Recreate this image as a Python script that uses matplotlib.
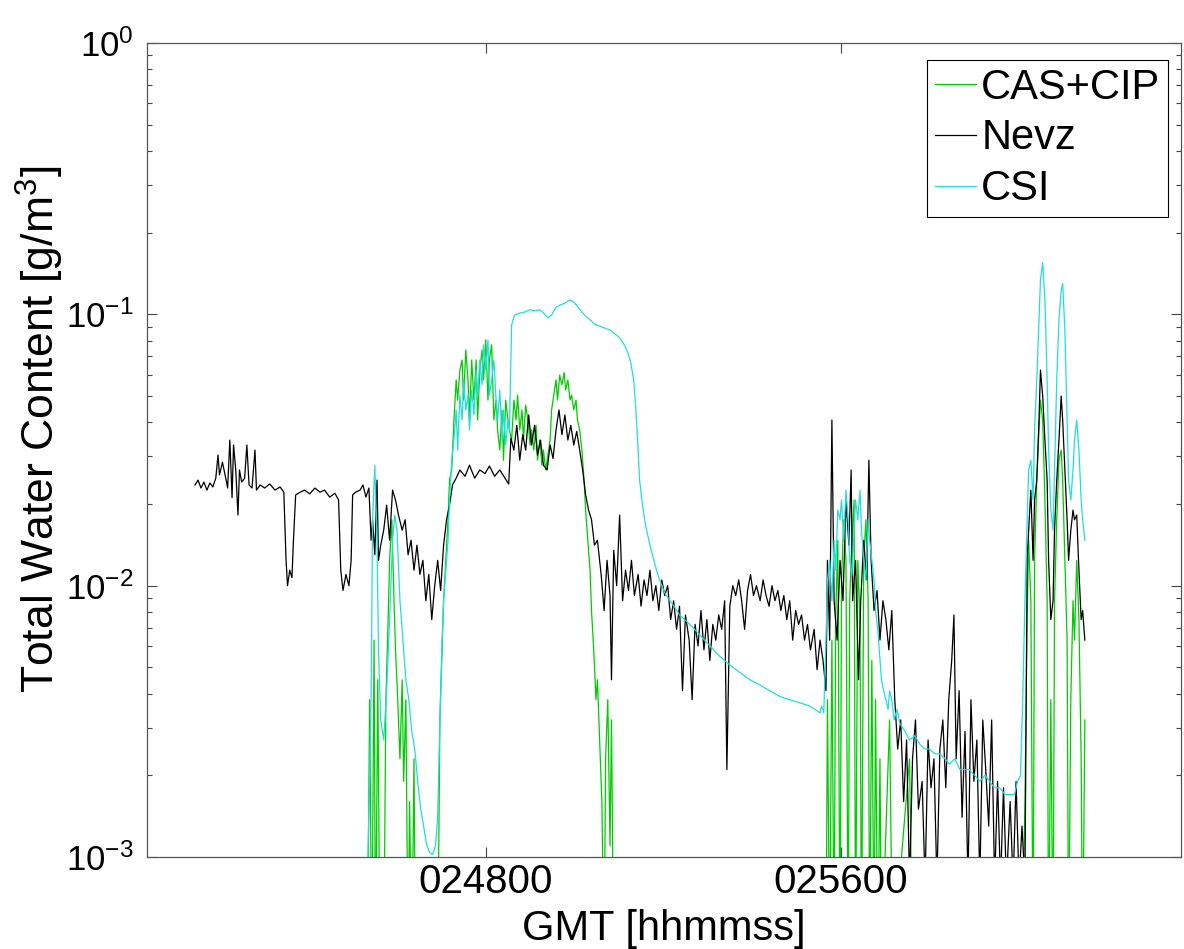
import matplotlib
matplotlib.use("Agg")
import matplotlib.pyplot as plt
from matplotlib import font_manager
from matplotlib.ticker import NullFormatter

plt.rcParams['font.family'] = ['Liberation Sans', 'DejaVu Sans']
plt.rcParams['mathtext.fontset'] = 'custom'
plt.rcParams['mathtext.rm'] = 'Liberation Sans'
plt.rcParams['mathtext.it'] = 'Liberation Sans'
plt.rcParams['mathtext.default'] = 'regular'

# narrow face for the log tick labels, if it is there
installed = {f.name for f in font_manager.fontManager.ttflist}
if 'Liberation Sans Narrow' in installed:
    ylab_font, ylab_size = 'Liberation Sans Narrow', 28
else:
    ylab_font, ylab_size = 'Liberation Sans', 25

# time in seconds after 02:40:00 GMT, total water content in g/m^3
nevz_t = [87, 91, 95, 99, 103, 107, 111, 115, 118, 120,
          124, 129, 131, 134, 137, 139, 142, 145, 147, 150,
          154, 157, 160, 164, 168, 170, 175, 181, 188, 195,
          202, 207, 210, 212, 215, 218, 220, 223, 229, 235,
          242, 249, 256, 262, 269, 276, 281, 284, 287, 291,
          295, 298, 300, 304, 310, 314, 318, 322, 325, 327,
          330, 333, 335, 338, 342, 346, 350, 354, 358, 362,
          367, 371, 375, 379, 383, 387, 391, 395, 399, 403,
          407, 411, 415, 419, 423, 427, 431, 435, 440, 445,
          452, 458, 465, 472, 479, 485, 492, 499, 506, 511,
          514, 518, 522, 526, 530, 534, 538, 542, 546, 550,
          554, 558, 563, 567, 571, 575, 579, 583, 587, 591,
          595, 599, 603, 607, 611, 615, 619, 623, 627, 631,
          636, 640, 644, 648, 650, 653, 657, 661, 665, 669,
          673, 677, 681, 686, 690, 694, 698, 702, 706, 710,
          714, 718, 722, 726, 730, 734, 738, 742, 746, 750,
          755, 759, 763, 767, 771, 775, 779, 783, 787, 791,
          795, 799, 803, 806, 810, 814, 818, 822, 826, 830,
          834, 838, 842, 846, 851, 855, 859, 863, 867, 871,
          875, 879, 883, 887, 891, 895, 899, 903, 907, 911,
          915, 919, 924, 928, 932, 936, 940, 942, 945, 948,
          951, 955, 959, 963, 967, 971, 974, 976, 980, 984,
          987, 991, 995, 998, 1001, 1005, 1009, 1013, 1017, 1021,
          1025, 1029, 1033, 1037, 1041, 1045, 1049, 1053, 1057, 1061,
          1065, 1070, 1074, 1078, 1082, 1086, 1090, 1094, 1098, 1102,
          1106, 1110, 1113, 1116, 1120, 1124, 1128, 1132, 1136, 1140,
          1144, 1148, 1152, 1156, 1160, 1164, 1168, 1172, 1176, 1180,
          1184, 1189, 1193, 1197, 1201, 1205, 1209, 1212, 1214, 1217,
          1220, 1222, 1225, 1228, 1230, 1233, 1236, 1239, 1241, 1244,
          1247, 1249, 1252, 1255, 1258, 1260, 1263, 1266, 1268, 1271,
          1274, 1276, 1279, 1282, 1285, 1287, 1290]
nevz_twc = [.0235, .0245, .0229, .0241, .0225, .0239, .0231, .0249, .0303, .0256,
            .0285, .0245, .0229, .0344, .0211, .033, .0267, .0182, .0267, .0241,
            .0249, .033, .0235, .0229, .0316, .0225, .0235, .0229, .0237, .0225,
            .0231, .0221, .0124, .0100, .0114, .0107, .0147, .0216, .0221, .0225,
            .0218, .0229, .0221, .0225, .0212, .0219, .0207, .0114, .0096, .0110,
            .0100, .0124, .0216, .0221, .0225, .0235, .0212, .0229, .0147, .0175,
            .0130, .0245, .0124, .0141, .0160, .0198, .0147, .0225, .0207, .0182,
            .0160, .0175, .0130, .0147, .0114, .0141, .0110, .0124, .0088, .0110,
            .0075, .0100, .0124, .0096, .0141, .0175, .0198, .0235, .0249, .0267,
            .0253, .0278, .0249, .0267, .0259, .0276, .0253, .0267, .0249, .0237,
            .0350, .0316, .0390, .0290, .0360, .0316, .0426, .0330, .0390, .0303,
            .0344, .0278, .0267, .0330, .0294, .0375, .0444, .0360, .0426, .0344,
            .0390, .0330, .0370, .0316, .0267, .0216, .0190, .0175, .0141, .0147,
            .0110, .0081, .0124, .0092, .0045, .0135, .0100, .0182, .0088, .0114,
            .0096, .0124, .0092, .0110, .0084, .0105, .0092, .0114, .0088, .0100,
            .0081, .0105, .0092, .0100, .0075, .0088, .0069, .0084, .0041, .0078,
            .0063, .0038, .0072, .0060, .0081, .0058, .0075, .0053, .0072, .0063,
            .0078, .0069, .0088, .0021, .0084, .0100, .0092, .0105, .0088, .0069,
            .0096, .0110, .0092, .0100, .0088, .0105, .0092, .0084, .0100, .0088,
            .0096, .0081, .0092, .0075, .0088, .0063, .0081, .0072, .0078, .0063,
            .0072, .0058, .0069, .0049, .0063, .0053, .0041, .0124, .0063, .0408,
            .0088, .0063, .0124, .0088, .0207, .0141, .0267, .0088, .0124, .0045,
            .0088, .0147, .0105, .0290, .0124, .0081, .0096, .0063, .0088, .0075,
            .0058, .0081, .0038, .0025, .0032, .0016, .0027, .0008, .0023, .0032,
            .0015, .0019, .0008, .0027, .0018, .0023, .0008, .0025, .0032, .0018,
            .0038, .0053, .0078, .0023, .0041, .0014, .0029, .0008, .0038, .0019,
            .0027, .0008, .0032, .0021, .0013, .0032, .0008, .0019, .0008, .0018,
            .0008, .0016, .0008, .0019, .0008, .0013, .0008, .0124, .0160, .0225,
            .0124, .0207, .0245, .0408, .0623, .0500, .0344, .0245, .0124, .0075,
            .0088, .0160, .0245, .0344, .0500, .0408, .0267, .0175, .0124, .0160,
            .0190, .0175, .0182, .0114, .0075, .0081, .0063]

csi_t = [320, 325, 327, 330, 333, 335, 338, 342, 346, 350,
         354, 357, 360, 364, 368, 372, 376, 380, 384, 388,
         392, 396, 400, 404, 408, 412, 415, 418, 421, 423,
         426, 429, 431, 434, 437, 440, 442, 445, 448, 450,
         453, 456, 458, 461, 464, 467, 469, 472, 475, 477,
         480, 483, 485, 488, 491, 494, 496, 499, 502, 504,
         507, 510, 512, 515, 519, 526, 533, 540, 546, 553,
         560, 564, 569, 575, 580, 587, 594, 599, 604, 610,
         615, 621, 627, 634, 641, 648, 654, 661, 668, 672,
         676, 680, 683, 686, 688, 692, 696, 702, 709, 715,
         722, 729, 736, 742, 756, 769, 783, 796, 810, 823,
         837, 851, 864, 878, 891, 905, 918, 925, 932, 934,
         937, 940, 942, 945, 948, 951, 953, 956, 959, 961,
         964, 967, 970, 972, 975, 978, 980, 983, 986, 988,
         991, 994, 997, 999, 1002, 1005, 1007, 1010, 1013, 1015,
         1018, 1021, 1024, 1026, 1029, 1032, 1036, 1040, 1047, 1053,
         1060, 1067, 1074, 1080, 1087, 1094, 1101, 1107, 1114, 1121,
         1128, 1134, 1141, 1148, 1155, 1161, 1168, 1175, 1182, 1189,
         1195, 1199, 1203, 1206, 1209, 1212, 1214, 1217, 1220, 1222,
         1225, 1228, 1230, 1233, 1236, 1239, 1241, 1244, 1247, 1249,
         1252, 1255, 1258, 1260, 1263, 1266, 1268, 1271, 1274, 1276,
         1279, 1282, 1285, 1287, 1290]
csi_twc = [.0008, .0038, .0175, .0278, .0147, .0058, .0032, .0027, .0041, .0075,
           .0147, .0182, .0160, .0088, .0063, .0045, .0038, .0029, .0025, .0019,
           .0015, .0013, .00111, .00104, .00102, .0011, .0014, .0032, .0063, .0088,
           .0114, .0147, .0207, .029, .0344, .0444, .0316, .0504, .0408, .0573,
           .0444, .0504, .0375, .0526, .0426, .0623, .0504, .0679, .055, .0772,
           .0623, .0805, .0504, .0573, .0679, .0483, .0408, .0526, .0344, .0444,
           .033, .0408, .0375, .0915, .0995, .101, .102, .104, .103, .104,
           .100, .097, .0995, .106, .108, .110, .113, .111, .107, .102,
           .0985, .0955, .092, .0905, .089, .0875, .085, .082, .0766, .0723,
           .0665, .0573, .0444, .0316, .0245, .0198, .0167, .0141, .0119, .0105,
           .0094, .0088, .0083, .0078, .0072, .0066, .0060, .0055, .0051, .0048,
           .0045, .0043, .0041, .0039, .0038, .0037, .0036, .0035, .0034, .0036,
           .0034, .0063, .0105, .0124, .0088, .0147, .0114, .019, .0175, .0207,
           .0147, .0225, .0175, .0124, .0109, .016, .0207, .0175, .0225, .016,
           .0124, .0105, .0175, .0147, .0124, .0105, .0081, .0069, .0053, .0045,
           .0041, .0038, .0035, .0041, .0038, .0032, .0035, .0031, .0029, .0027,
           .0028, .0026, .0025, .0025, .0024, .0024, .0023, .0022, .0023, .0021,
           .0021, .0021, .0020, .0019, .0020, .0019, .0018, .0018, .0017, .0017,
           .0017, .0019, .0020, .0038, .0088, .0175, .0267, .029, .0207, .0375,
           .0573, .0955, .134, .155, .113, .0573, .0316, .019, .016, .0267,
           .0573, .0955, .123, .13, .0875, .0408, .0245, .0207, .0267, .0344,
           .0408, .0316, .0207, .0175, .0147]

cas_t = [320, 323, 326, 329, 331, 334, 337, 342, 345, 348,
         350, 353, 356, 358, 361, 364, 367, 369, 372, 375,
         377, 380, 383, 385, 415, 418, 421, 423, 426, 429,
         431, 434, 437, 440, 442, 445, 448, 450, 453, 456,
         458, 461, 464, 467, 469, 472, 475, 477, 480, 483,
         485, 488, 491, 494, 496, 499, 502, 504, 507, 510,
         512, 515, 518, 521, 523, 526, 529, 531, 534, 537,
         540, 542, 545, 548, 550, 553, 556, 558, 561, 564,
         567, 569, 572, 575, 577, 580, 583, 586, 588, 591,
         594, 596, 599, 602, 604, 607, 610, 613, 615, 618,
         621, 623, 626, 629, 631, 634, 637, 640, 642, 645,
         648, 650, 653, 661, 940, 942, 945, 948, 951, 953,
         956, 959, 961, 964, 967, 970, 972, 975, 978, 980,
         983, 986, 988, 991, 994, 997, 999, 1002, 1005, 1007,
         1010, 1013, 1015, 1026, 1030, 1053, 1057, 1205, 1209, 1212,
         1214, 1217, 1220, 1222, 1225, 1228, 1230, 1233, 1236, 1239,
         1241, 1244, 1247, 1249, 1252, 1255, 1258, 1260, 1263, 1266,
         1268, 1271, 1274, 1276, 1279, 1282, 1285, 1287, 1290]
cas_twc = [.0004, .0038, .0004, .0063, .0004, .0045, .0004, .0004, .0038, .0075,
           .0124, .0175, .0088, .0058, .0038, .0023, .0045, .0019, .0038, .0004,
           .0016, .0004, .0023, .0004, .0004, .0032, .0058, .0088, .0124, .0175,
           .0245, .0267, .0408, .0573, .0483, .0623, .0679, .0483, .0739, .0573,
           .0408, .0679, .0483, .0679, .0408, .0623, .0739, .0573, .0805, .0483,
           .0679, .0772, .0408, .0483, .0375, .0316, .0444, .029, .0483, .0408,
           .0375, .0344, .0483, .0408, .0504, .0375, .0444, .0344, .0463, .0408,
           .033, .0375, .0316, .039, .029, .0344, .0278, .0316, .0267, .0303,
           .0344, .0444, .0504, .0573, .0483, .0597, .055, .061, .0526, .0573,
           .0483, .0504, .0444, .0483, .0408, .0375, .0316, .0245, .019, .0147,
           .0114, .0081, .0058, .0038, .0045, .0027, .0016, .0004, .0023, .0038,
           .0011, .0032, .0004, .0004, .0004, .0038, .0004, .0063, .0004, .0075,
           .0147, .0004, .0105, .0175, .0124, .0004, .0088, .0147, .0207, .0004,
           .0124, .0075, .0004, .0124, .0175, .0088, .0004, .0053, .0004, .0038,
           .0004, .0023, .0004, .0032, .0004, .0023, .0004, .0004, .0016, .0075,
           .0147, .0088, .0004, .0124, .0245, .0375, .0483, .0408, .0207, .0088,
           .0004, .0038, .0004, .0088, .0175, .029, .0316, .0245, .0124, .0063,
           .0004, .0038, .0088, .0063, .0124, .0075, .0023, .0004, .0032]

tick_pos = [480, 960]
tick_labels = ['024800', '025600']
ytick_pos = [1e-3, 1e-2, 1e-1, 1e0]
ytick_labels = ['$10^{-3}$', '$10^{-2}$', '$10^{-1}$', '$10^{0}$']

fig = plt.figure(figsize=(11.84, 9.49), dpi=100)
ax = fig.add_axes([147 / 1184, 92 / 949, 1034 / 1184, 814 / 949])

ax.plot(cas_t, cas_twc, color='#00cc00', lw=0.9, label='CAS+CIP')
ax.plot(nevz_t, nevz_twc, color='black', lw=0.9, label='Nevz')
ax.plot(csi_t, csi_twc, color='#22dddd', lw=0.9, label='CSI')

ax.set_yscale('log')
ax.set_ylim(1e-3, 1)
ax.set_xlim(22, 1420)
ax.set_xticks(tick_pos)
ax.set_xticklabels(tick_labels, fontsize=29)
ax.set_yticks(ytick_pos)
ax.set_yticklabels(ytick_labels, fontsize=ylab_size, family=ylab_font)
ax.yaxis.set_minor_formatter(NullFormatter())

ax.tick_params(which='both', direction='in', top=True, right=True,
               color='#444444', width=0.8)
ax.tick_params(which='major', length=7)
ax.tick_params(which='minor', length=3.5)
ax.tick_params(axis='y', pad=10)
ax.tick_params(axis='x', pad=4)
for s in ax.spines.values():
    s.set_color('#555555')
    s.set_linewidth(0.9)

ax.set_xlabel('GMT [hhmmss]', fontsize=30, labelpad=6)
ax.set_ylabel('Total Water Content [g/m$^3$]', fontsize=32)
ax.yaxis.set_label_coords(-0.078, 0.525)

leg = ax.legend(loc='upper right', bbox_to_anchor=(0.9874, 0.979), borderaxespad=0,
                fontsize=30, handlelength=1.0, handletextpad=0.12, labelspacing=0.26,
                borderpad=0.18, fancybox=False, edgecolor='black', framealpha=1)
leg.get_frame().set_linewidth(0.8)

fig.savefig('out.png', dpi=100)
